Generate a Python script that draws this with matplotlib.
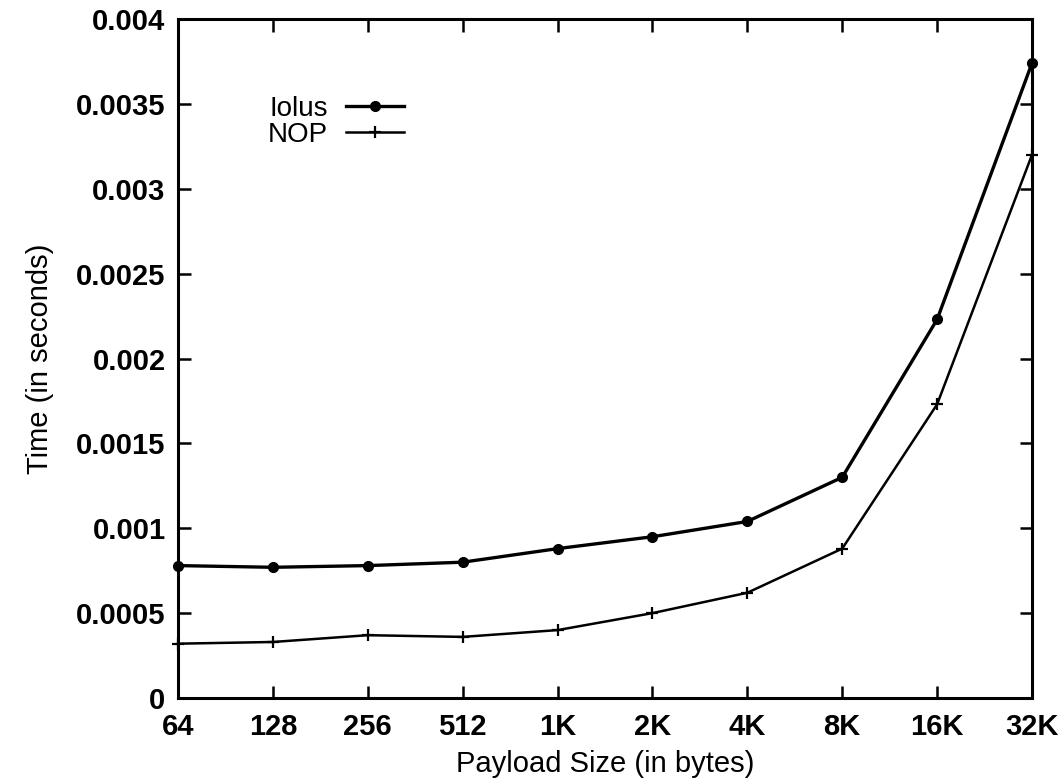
import numpy as np
import matplotlib.pyplot as plt

sizes = ['64', '128', '256', '512', '1K', '2K', '4K', '8K', '16K', '32K']
iolus = [0.00078, 0.00077, 0.00078, 0.00080, 0.00088, 0.00095, 0.00104, 0.00130, 0.00223, 0.00374]
nop = [0.00032, 0.00033, 0.00037, 0.00036, 0.00040, 0.00050, 0.00062, 0.00088, 0.00173, 0.00320]
yticks = [0, 0.0005, 0.001, 0.0015, 0.002, 0.0025, 0.003, 0.0035, 0.004]
ylabels = ['0', '0.0005', '0.001', '0.0015', '0.002', '0.0025', '0.003', '0.0035', '0.004']

plt.rcParams['font.family'] = ['Liberation Sans', 'DejaVu Sans']

fig = plt.figure(figsize=(10.6, 7.79), dpi=100)
ax = fig.add_axes([178 / 1060, 81 / 779, 854 / 1060, 679 / 779])

x = np.arange(len(sizes))
ax.plot(x, iolus, color='black', lw=2.4, marker='o', ms=7, label='Iolus', clip_on=False)
ax.plot(x, nop, color='black', lw=1.8, marker='+', ms=8, mew=1.6, label='NOP', clip_on=False)

ax.set_xlim(0, len(sizes) - 1)
ax.set_ylim(0, 0.004)
ax.set_xticks(x)
ax.set_xticklabels(sizes)
ax.set_yticks(yticks)
ax.set_yticklabels(ylabels)

for s in ax.spines.values():
    s.set_linewidth(2.2)
ax.tick_params(direction='in', length=9, width=1.8, top=True, right=True,
               labelsize=21, pad=9)
ax.tick_params(axis='x', pad=11)
for lab in ax.get_xticklabels() + ax.get_yticklabels():
    lab.set_fontweight('bold')

ax.set_xlabel('Payload Size (in bytes)', fontsize=21, labelpad=6)
ax.set_ylabel('Time (in seconds)', fontsize=21, labelpad=16)

ax.legend(loc='center left', bbox_to_anchor=(0.105, 0.849), frameon=False,
          markerfirst=False, fontsize=20, handlelength=2.1, handletextpad=0.65,
          labelspacing=0.0, borderpad=0, borderaxespad=0)

fig.savefig('out.png', dpi=100)
